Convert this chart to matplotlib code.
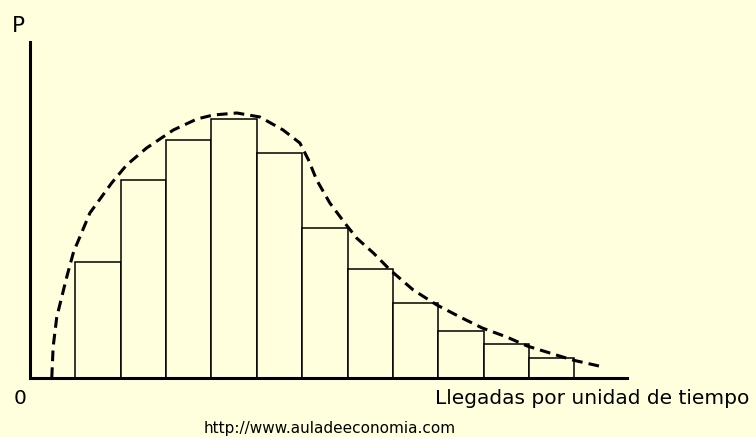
import matplotlib as mpl
mpl.use('Agg')
import matplotlib.pyplot as plt
import numpy as np

mpl.rc('font', family='DejaVu Sans', size=14)

BG = '#FFFFDD'

# histogram: one bar per number of arrivals
bin_left = [1, 2, 3, 4, 5, 6, 7, 8, 9, 10, 11]
bar_height = [11.6, 19.8, 23.8, 25.9, 22.5, 15.0, 10.9, 7.5, 4.7, 3.4, 2.0]

# fitted distribution (dashed curve)
curve_x = [0.48, 0.51, 0.59, 0.70, 0.81, 0.96, 1.32, 1.80, 2.13, 2.57, 3.16,
           3.68, 4.04, 4.56, 5.07, 5.58, 5.95, 6.14, 6.32, 6.61, 6.94, 7.20,
           7.57, 7.94, 8.45, 8.97, 9.48, 9.97, 10.51, 10.96, 11.46, 11.96, 12.64]
curve_y = [0.0, 3.1, 6.1, 8.1, 10.1, 12.6, 16.5, 19.5, 21.3, 23.0, 24.8,
           25.9, 26.3, 26.5, 26.1, 24.8, 23.5, 21.8, 19.8, 17.5, 15.5, 14.0,
           12.5, 10.8, 8.8, 7.3, 6.1, 5.0, 4.1, 3.2, 2.5, 1.8, 1.1]

x_label = 'Llegadas por unidad de tiempo'
y_label = 'P'
origin_label = '0'
source = 'http://www.auladeeconomia.com'


def main():
    fig = plt.figure(figsize=(7.56, 4.37), dpi=100, facecolor=BG)
    W, H = 756., 437.
    ax = fig.add_axes([30 / W, (H - 378) / H, 597 / W, 336 / H])
    plot_settings(ax)
    ax.bar(bin_left, bar_height, width=1.0, align='edge',
           facecolor=BG, edgecolor='black', linewidth=1.1, zorder=2)
    ax.plot(curve_x, curve_y, color='black', linewidth=2.2,
            linestyle=(0, (3.5, 2.0)), zorder=3, clip_on=False,
            solid_joinstyle='round')
    # labels placed in pixel positions
    fig.text(12 / W, 1 - 32 / H, y_label, fontsize=15.5)
    fig.text(14 / W, 1 - 404 / H, origin_label, fontsize=14.5)
    fig.text(749 / W, 1 - 404 / H, x_label, fontsize=14.5, ha='right')
    fig.text(330 / W, 1 - 433 / H, source, fontsize=11, ha='center')
    fig.savefig('out.png', dpi=100, facecolor=BG)


def plot_settings(ax):
    """Bare axes: only the left and bottom lines"""
    ax.set_facecolor(BG)
    ax.set_xlim(0, 597 / 45.36)
    ax.set_ylim(0, 33.6)
    for side in ['top', 'right']:
        ax.spines[side].set_visible(False)
    for side in ['left', 'bottom']:
        ax.spines[side].set_linewidth(2.2)
        ax.spines[side].set_zorder(4)
    ax.set_xticks([])
    ax.set_yticks([])


if __name__ == '__main__':
    main()
